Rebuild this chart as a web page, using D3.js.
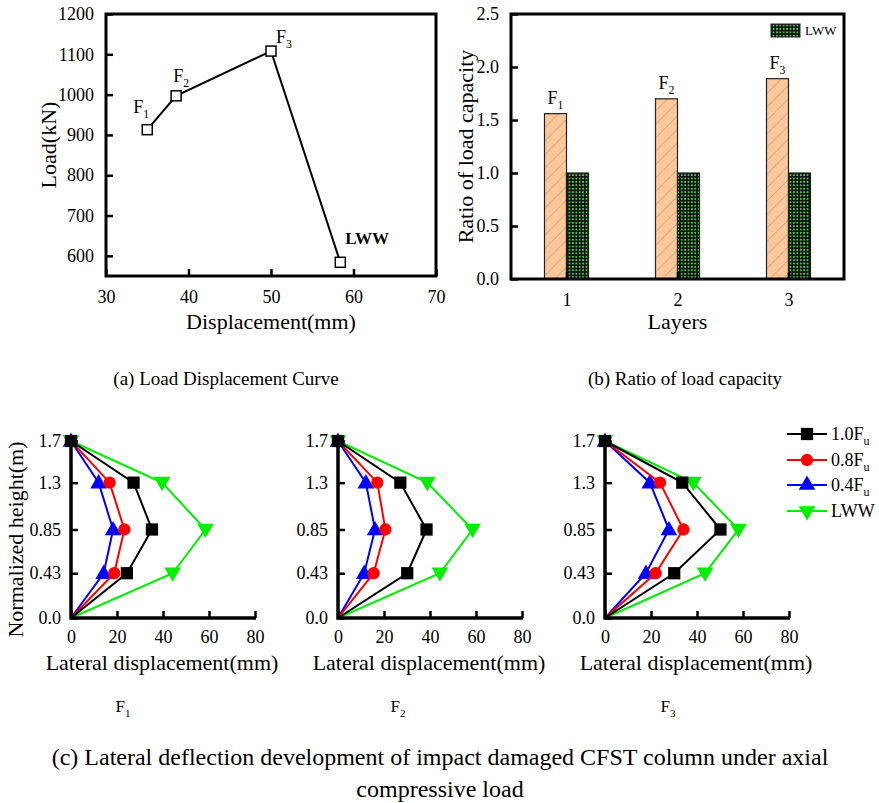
<!DOCTYPE html>
<html><head><meta charset="utf-8">
<script src="https://cdn.jsdelivr.net/npm/d3@7"></script>
<style>body{margin:0;background:#fff}svg{display:block}text{font-family:"Liberation Serif","Times New Roman",serif;fill:#000}</style>
</head><body><svg id="c" width="879" height="803"></svg>
<script>
// ---- data ----
const loadLabels = ["F1","F2","F3","LWW"];
const loadDisp = [35.0, 38.5, 50.0, 58.4];
const loadVal = [913, 997, 1108, 584];
const loadTicksX = [30,40,50,60,70];
const loadTicksY = [600,700,800,900,1000,1100,1200];

const layers = [1, 2, 3];
const ratioF = [1.56, 1.70, 1.89];
const ratioLWW = [1.0, 1.0, 1.0];
const ratioTicks = [0,0.5,1,1.5,2,2.5];

const heights = [0, 0.43, 0.85, 1.3, 1.7];
const heightTicks = ["0.0","0.43","0.85","1.3","1.7"];
const deflTicks = [0,20,40,60,80];
const seriesNames = ["1.0Fu","0.8Fu","0.4Fu","LWW"];
const seriesColors = ["#000000","#ff0000","#0000ff","#00ee00"];
const defl1 = { // F1
  "1.0Fu":[0,24.3,35.2,27.2,0],
  "0.8Fu":[0,18.8,23.2,16.8,0],
  "0.4Fu":[0,14.2,18.3,12.0,0],
  "LWW":[0,44.2,58.5,39.6,0]};
const defl2 = { // F2
  "1.0Fu":[0,30.1,38.5,27.1,0],
  "0.8Fu":[0,15.5,20.6,17.1,0],
  "0.4Fu":[0,11.4,16.1,12.1,0],
  "LWW":[0,44.3,58.5,38.8,0]};
const defl3 = { // F3
  "1.0Fu":[0,30.1,50.2,33.6,0],
  "0.8Fu":[0,22.0,34.1,23.9,0],
  "0.4Fu":[0,17.8,27.8,19.5,0],
  "LWW":[0,43.5,58.0,38.4,0]};
const deflSets = [defl1, defl2, defl3];
const deflTitles = ["F1","F2","F3"];

const svg = d3.select("#c");
const defs = svg.append("defs");
const ph = defs.append("pattern").attr("id","hatch").attr("patternUnits","userSpaceOnUse")
  .attr("width",9.5).attr("height",9.5).attr("patternTransform","rotate(45)");
ph.append("rect").attr("width",9.5).attr("height",9.5).attr("fill","#fdc899");
ph.append("line").attr("x1",0).attr("y1",0).attr("x2",0).attr("y2",9.5).attr("stroke","#a8856a").attr("stroke-width",0.9);
const pd = defs.append("pattern").attr("id","dots").attr("patternUnits","userSpaceOnUse")
  .attr("width",3.4).attr("height",3.4);
pd.append("rect").attr("width",3.4).attr("height",3.4).attr("fill","#0a1a0a");
pd.append("rect").attr("x",0.9).attr("y",0.9).attr("width",1.6).attr("height",1.6).attr("fill","#6fd36f");

function sub(sel, main, s, size, subSize){
  sel.append("tspan").text(main);
  sel.append("tspan").attr("dy", size*0.3).attr("font-size", subSize).text(s);
}
function labelF(g, x, y, name, size, anchor){
  const t = g.append("text").attr("x",x).attr("y",y).attr("font-size",size).attr("text-anchor",anchor||"start");
  if (name.startsWith("F") && name.length===2) sub(t, "F", name[1], size, size*0.65);
  else t.text(name);
  return t;
}
function styleAxis(ax, fs){
  ax.attr("font-family",null);
  ax.select(".domain").remove();
  ax.selectAll(".tick line").attr("stroke","#000").attr("stroke-width",2.5);
  ax.selectAll(".tick text").attr("font-size",fs);
}

// ===== Panel (a) =====
{
  const L=106,R=436,T=14,B=276;
  const x = d3.scaleLinear().domain([30,70]).range([L,R]);
  const y = d3.scaleLinear().domain([550,1200]).range([B,T]);
  const g = svg.append("g");
  const ax = g.append("g").attr("transform",`translate(0,${B})`)
    .call(d3.axisBottom(x).tickValues(loadTicksX).tickFormat(d3.format("d")).tickSizeInner(-7).tickSizeOuter(0).tickPadding(14));
  styleAxis(ax,18);
  const ay = g.append("g").attr("transform",`translate(${L},0)`)
    .call(d3.axisLeft(y).tickValues(loadTicksY).tickFormat(d3.format("d")).tickSizeInner(-7).tickSizeOuter(0).tickPadding(12));
  styleAxis(ay,18);
  g.append("rect").attr("x",L).attr("y",T).attr("width",R-L).attr("height",B-T).attr("fill","none").attr("stroke","#000").attr("stroke-width",3);
  const pts = loadDisp.map((d,i)=>[x(d),y(loadVal[i])]);
  g.append("path").attr("d",d3.line()(pts)).attr("fill","none").attr("stroke","#000").attr("stroke-width",2);
  g.selectAll(".sq").data(pts).join("rect").attr("x",d=>d[0]-5).attr("y",d=>d[1]-5).attr("width",10).attr("height",10)
    .attr("fill","#fff").attr("stroke","#000").attr("stroke-width",1.5);
  const lblOff = [[-14,-17],[-3,-14],[5,-8],[5,-18]];
  loadLabels.forEach((n,i)=>{
    const t = labelF(g, x(loadDisp[i])+lblOff[i][0], y(loadVal[i])+lblOff[i][1], n, 18);
    if(n==="LWW") t.attr("font-weight","bold").attr("font-size",17);
  });
  g.append("text").attr("transform",`translate(56,${(T+B)/2}) rotate(-90)`).attr("text-anchor","middle").attr("font-size",22).text("Load(kN)");
  g.append("text").attr("x",(L+R)/2).attr("y",329).attr("text-anchor","middle").attr("font-size",22).text("Displacement(mm)");
  g.append("text").attr("x",226).attr("y",385).attr("text-anchor","middle").attr("font-size",19).text("(a) Load Displacement Curve");
}

// ===== Panel (b) =====
{
  const L=511,R=844,T=14,B=279;
  const x = d3.scaleLinear().domain([0.5,3.5]).range([L,R]);
  const y = d3.scaleLinear().domain([0,2.5]).range([B,T]);
  const g = svg.append("g");
  const bw = 22;
  g.selectAll(".bf").data(layers).join("rect")
    .attr("x",d=>x(d)-bw).attr("y",(d,i)=>y(ratioF[i])).attr("width",bw).attr("height",(d,i)=>B-y(ratioF[i]))
    .attr("fill","url(#hatch)").attr("stroke","#222").attr("stroke-width",1.2);
  g.selectAll(".bl").data(layers).join("rect")
    .attr("x",d=>x(d)).attr("y",(d,i)=>y(ratioLWW[i])).attr("width",bw).attr("height",(d,i)=>B-y(ratioLWW[i]))
    .attr("fill","url(#dots)").attr("stroke","#222").attr("stroke-width",1.2);
  const ax = g.append("g").attr("transform",`translate(0,${B})`)
    .call(d3.axisBottom(x).tickValues(layers).tickFormat(d3.format("d")).tickSizeInner(-7).tickSizeOuter(0).tickPadding(14));
  styleAxis(ax,18);
  const ay = g.append("g").attr("transform",`translate(${L},0)`)
    .call(d3.axisLeft(y).tickValues(ratioTicks).tickFormat(d3.format(".1f")).tickSizeInner(-7).tickSizeOuter(0).tickPadding(12));
  styleAxis(ay,18);
  g.append("rect").attr("x",L).attr("y",T).attr("width",R-L).attr("height",B-T).attr("fill","none").attr("stroke","#000").attr("stroke-width",3);
  layers.forEach((d,i)=>{ labelF(g, x(d)-bw/2, y(ratioF[i])-10, "F"+(i+1), 18, "middle"); });
  g.append("rect").attr("x",771).attr("y",24).attr("width",29).attr("height",13).attr("fill","url(#dots)").attr("stroke","#222").attr("stroke-width",1);
  g.append("text").attr("x",805).attr("y",35).attr("font-size",13).text("LWW");
  g.append("text").attr("transform",`translate(473,${(T+B)/2}) rotate(-90)`).attr("text-anchor","middle").attr("font-size",22).text("Ratio of load capacity");
  g.append("text").attr("x",(L+R)/2).attr("y",329).attr("text-anchor","middle").attr("font-size",22).text("Layers");
  g.append("text").attr("x",685).attr("y",385).attr("text-anchor","middle").attr("font-size",19).text("(b) Ratio of load capacity");
}

// ===== Panel (c) =====
{
  const T=441,B=618,W=184;
  const lefts=[71,338,605];
  const y = d3.scaleLinear().domain([0,1.7]).range([B,T]);
  const symbols = [d3.symbolSquare, d3.symbolCircle, d3.symbolTriangle, d3.symbolTriangle];
  const symSize = [150, 120, 120, 120];
  const rot = [0,0,0,180];
  lefts.forEach((L,pi)=>{
    const x = d3.scaleLinear().domain([0,80]).range([L,L+W]);
    const g = svg.append("g");
    const data = deflSets[pi];
    [3,2,1,0].forEach(si=>{
      const name = seriesNames[si];
      const vals = data[name];
      const pts = heights.map((h,k)=>[x(vals[k]),y(h)]);
      g.append("path").attr("d",d3.line()(pts)).attr("fill","none").attr("stroke",seriesColors[si]).attr("stroke-width",2);
      g.selectAll(null).data(pts.filter((p,k)=>heights[k]>0)).join("path")
        .attr("d",d3.symbol().type(symbols[si]).size(symSize[si]))
        .attr("transform",d=>`translate(${d[0]},${d[1]+(si===2?1:si===3?-1:0)}) rotate(${rot[si]})`)
        .attr("fill",seriesColors[si]);
    });
    const ax = g.append("g").attr("transform",`translate(0,${B})`)
      .call(d3.axisBottom(x).tickValues(deflTicks).tickSizeInner(-7).tickSizeOuter(0).tickPadding(12));
    styleAxis(ax,18);
    const ay = g.append("g").attr("transform",`translate(${L},0)`)
      .call(d3.axisLeft(y).tickValues(heights).tickFormat((d,i)=>heightTicks[i]).tickSizeInner(-7).tickSizeOuter(0).tickPadding(10));
    styleAxis(ay,18);
    g.append("path").attr("d",`M${L},${T-3}V${B}H${L+W+1}`).attr("fill","none").attr("stroke","#000").attr("stroke-width",3.5);
    g.append("text").attr("x",L+W/2-1).attr("y",670).attr("text-anchor","middle").attr("font-size",22).text("Lateral displacement(mm)");
    labelF(g, [123,398,668][pi], 712, deflTitles[pi], 17, "middle");
  });
  svg.append("text").attr("transform",`translate(23,${(T+B)/2+10}) rotate(-90)`).attr("text-anchor","middle").attr("font-size",22).text("Normalized height(m)");
  const lg = svg.append("g");
  const rowsY = [434,460,485,511];
  seriesNames.forEach((n,i)=>{
    lg.append("line").attr("x1",787).attr("x2",827).attr("y1",rowsY[i]).attr("y2",rowsY[i]).attr("stroke",seriesColors[i]).attr("stroke-width",2);
    lg.append("path").attr("d",d3.symbol().type(symbols[i]).size(symSize[i])).attr("transform",`translate(807,${rowsY[i]}) rotate(${rot[i]})`).attr("fill",seriesColors[i]);
    const t = lg.append("text").attr("x",831).attr("y",rowsY[i]+6).attr("font-size",18);
    if(n.endsWith("Fu")){ t.append("tspan").text(n.slice(0,-1)); t.append("tspan").attr("dy",5).attr("font-size",12).text("u"); }
    else t.text(n);
  });
  svg.append("text").attr("x",440).attr("y",765).attr("text-anchor","middle").attr("font-size",24).text("(c) Lateral deflection development of impact damaged CFST column under axial");
  svg.append("text").attr("x",440).attr("y",797).attr("text-anchor","middle").attr("font-size",24).text("compressive load");
}
</script></body></html>
